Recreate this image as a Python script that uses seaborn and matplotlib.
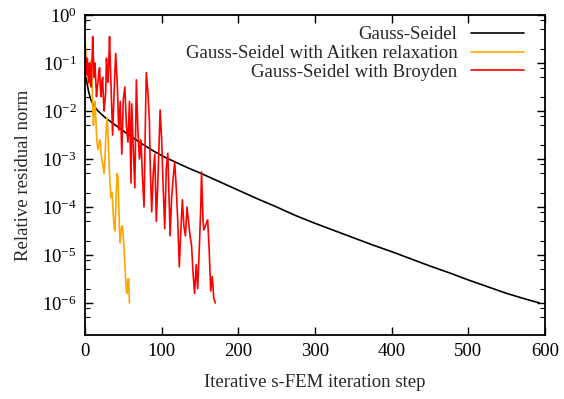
import numpy as np
import pandas as pd
import matplotlib
matplotlib.use("Agg")
import matplotlib.pyplot as plt
import seaborn as sns
from matplotlib.ticker import LogLocator, LogFormatterMathtext, NullFormatter, FixedLocator

# ---------------- data ----------------
gs_x = [0, 3, 5, 8, 12, 17, 25, 35, 47, 60, 75, 90, 105, 120, 135, 150, 175,
        200, 225, 250, 275, 300, 325, 350, 375, 400, 425, 450, 475, 500, 525,
        550, 575, 593]
gs_log = [-1.15, -1.45, -1.62, -1.78, -1.9, -2.0, -2.12, -2.24, -2.38, -2.53,
          -2.69, -2.84, -2.97, -3.08, -3.19, -3.29, -3.47, -3.65, -3.83, -4.0,
          -4.18, -4.34, -4.49, -4.64, -4.79, -4.93, -5.08, -5.23, -5.37, -5.52,
          -5.66, -5.8, -5.92, -6.0]

aitken_x = list(range(0, 59))
aitken_log = [-0.5, -0.8, -1.1, -1.3, -1.2, -1.45, -1.1, -1.0, -0.95, -1.3,
              -1.9, -2.3, -2.0, -1.8, -2.1, -2.5, -2.7, -2.8, -2.75, -2.6,
              -2.65, -2.9, -3.0, -3.1, -3.2, -3.3, -3.0, -2.6, -2.3, -2.15,
              -2.5, -2.9, -3.3, -3.6, -3.8, -3.7, -3.9, -4.2, -4.4, -4.5,
              -4.1, -3.6, -3.3, -3.4, -3.9, -4.5, -4.75, -4.5, -4.4, -4.4,
              -4.6, -4.9, -5.2, -5.5, -5.75, -5.8, -5.5, -5.5, -6.0]

broyden_x = [0, 1, 2, 3, 4, 5, 6, 7, 8, 9, 10, 11, 12, 13, 14, 15, 16, 17, 18,
             19, 20, 21, 22, 23, 24, 25, 26, 27, 28, 29, 30, 31, 32, 33, 34,
             36, 38, 40, 42, 44, 46, 48, 50, 52, 54, 56, 58, 60, 61, 63,
             65, 67, 69, 71, 73, 75, 77, 79, 80, 82, 84, 85, 87, 89, 91, 93, 95,
             98, 100, 102, 104, 106, 108, 110, 111, 113, 115, 117, 119, 121,
             123, 125, 127, 129, 131, 133, 135, 137, 139, 141, 143, 145, 147,
             149, 151, 152, 154, 155, 157, 159, 160, 162, 164, 166, 168, 170]
broyden_log = [-0.55, -1.0, -1.25, -0.9, -1.2, -1.4, -1.0, -1.3, -1.5, -1.1,
               -0.45, -0.9, -1.3, -1.0, -1.35, -1.7, -1.5, -1.4, -1.2, -1.1,
               -1.5, -1.7, -1.4, -1.3, -1.75, -2.0, -1.8, -1.6, -0.9, -1.2,
               -1.4, -1.0, -0.45, -1.0, -1.5,
               -2.5, -1.6, -0.8, -1.4, -2.4, -1.8, -2.9, -1.75, -1.5, -2.3,
               -2.65, -1.8, -3.5, -1.85, -2.8, -3.6, -1.35, -2.4, -3.0, -2.6,
               -3.4, -4.0, -2.0, -1.2, -1.6, -2.2, -3.1, -4.1, -3.3, -2.9,
               -4.3, -3.5, -1.98, -2.6, -3.6, -4.45, -3.2, -2.88, -4.0, -4.6,
               -3.8, -3.4, -3.06, -3.6, -4.3, -5.25, -4.5, -3.85, -4.4, -4.6,
               -4.0, -4.3, -4.6, -4.8, -5.4, -5.8, -5.2, -5.7, -4.9, -4.0,
               -3.27, -4.3, -4.48, -4.4, -4.3, -4.27, -4.9, -5.75, -5.45, -5.9,
               -6.0]

labels = ["Gauss-Seidel", "Gauss-Seidel with Aitken relaxation",
          "Gauss-Seidel with Broyden"]
colors = ["#000000", "#FFA500", "#FF0000"]

# ---------------- style ----------------
sns.set_theme(style="ticks")
plt.rcParams["font.family"] = ["Liberation Serif", "DejaVu Serif"]
plt.rcParams["mathtext.fontset"] = "stix"
FS = 13.5
plt.rcParams["font.size"] = FS

fig = plt.figure(figsize=(5.64, 3.99), dpi=100)
ax = fig.add_axes([85 / 564, 1 - 335 / 399, 460 / 564, 320 / 399])

frames = [
    pd.DataFrame({"x": gs_x, "y": np.power(10.0, gs_log)}),
    pd.DataFrame({"x": aitken_x, "y": np.power(10.0, aitken_log)}),
    pd.DataFrame({"x": broyden_x, "y": np.power(10.0, broyden_log)}),
]
for df, lab, col in zip(frames, labels, colors):
    sns.lineplot(data=df, x="x", y="y", ax=ax, color=col, label=lab,
                 linewidth=1.2, sort=False, estimator=None)

ax.set_yscale("log")
ax.set_xlim(0, 600)
ax.set_ylim(10 ** (-6 - 2 / 3), 1)
ax.set_xticks([0, 100, 200, 300, 400, 500, 600])
ax.yaxis.set_major_locator(FixedLocator([10.0 ** k for k in range(-6, 1)]))
ax.yaxis.set_major_formatter(LogFormatterMathtext())
ax.yaxis.set_minor_locator(LogLocator(base=10, subs=(2.0, 5.0, 8.0), numticks=20))
ax.yaxis.set_minor_formatter(NullFormatter())

ax.tick_params(which="both", direction="in", top=True, right=True,
               labelsize=FS, colors="black")
ax.tick_params(which="major", length=6, width=1.0, pad=6)
ax.tick_params(which="minor", length=3.5, width=0.8)
for sp in ax.spines.values():
    sp.set_linewidth(1.3)
    sp.set_color("black")

ax.set_xlabel("Iterative s-FEM iteration step", fontsize=FS, labelpad=10)
ax.set_ylabel("Relative residual norm", fontsize=FS, labelpad=7)

leg = ax.legend(loc="upper right", bbox_to_anchor=(0.9707, 0.988),
                frameon=False, markerfirst=False, fontsize=FS,
                handlelength=2.85, handletextpad=0.7, labelspacing=0.08,
                borderaxespad=0.0)

fig.savefig("out.png", dpi=100)
